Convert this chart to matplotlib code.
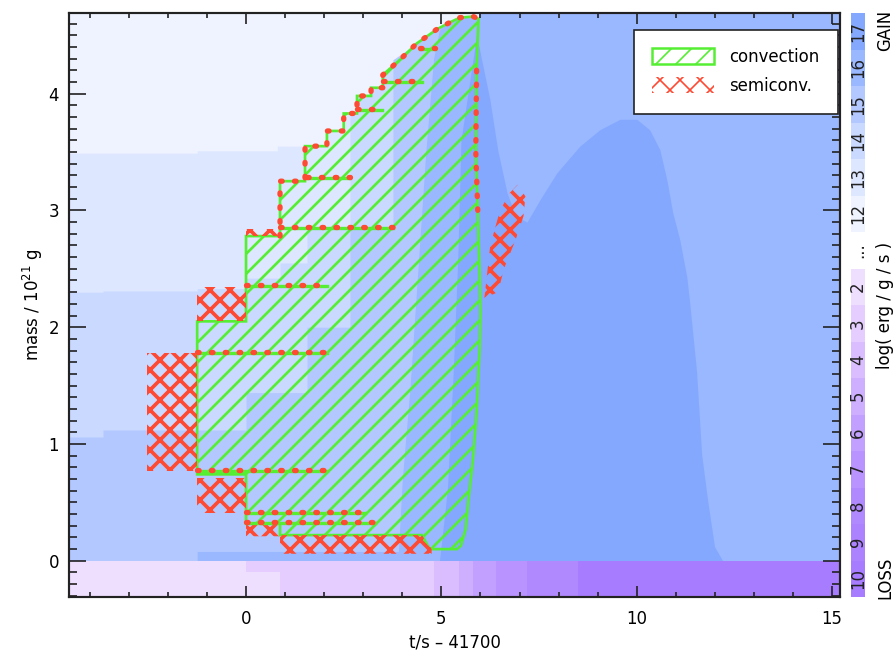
import matplotlib
matplotlib.use('Agg')
import matplotlib.pyplot as plt
from matplotlib.patches import Patch, Polygon
import numpy as np

plt.rcParams['font.family'] = ['Liberation Sans Narrow', 'DejaVu Sans']
plt.rcParams['font.stretch'] = 'condensed'
plt.rcParams['font.size'] = 11

green = '#55ee33'
red = '#ff4a33'

# colours of the energy levels, log(erg/g/s)
gain_colors = {12: '#eef3ff', 13: '#dde7ff', 14: '#c9d9ff', 15: '#b3c8ff',
               16: '#99b8ff', 17: '#85a8ff'}
loss_colors = {2: '#efdfff', 3: '#e5cdff', 4: '#d9bdff', 5: '#cdaeff', 6: '#c2a0ff',
               7: '#b993ff', 8: '#b189ff', 9: '#ac82ff', 10: '#a87cff'}

# upper mass boundary of region with level >= L (nested)
top13_t = [-4.53, -1.25, -1.25, 0.8, 0.8, 2.07, 2.07, 2.5, 2.5, 2.84, 2.84, 3.2, 3.2, 3.5, 3.5,
           3.94, 4.37, 4.63, 4.88, 5.22, 5.47, 5.81, 5.95, 5.95, 15.2]
top13_m = [3.49, 3.49, 3.51, 3.51, 3.55, 3.55, 3.68, 3.68, 3.83, 3.83, 3.98, 3.98, 4.05, 4.05, 4.16,
           4.29, 4.43, 4.49, 4.55, 4.61, 4.65, 4.66, 4.64, 4.69, 4.69]
top14_t = [-4.53, -3.66, -3.66, -1.25, -1.25, 0, 0, 0.87, 0.87, 1.56, 1.56, 2.66, 2.66, 2.84, 2.84,
           3.2, 3.2, 3.5, 3.5, 3.94, 4.37, 4.63, 4.88, 5.22, 5.47, 5.81, 5.95, 5.95, 15.2]
top14_m = [2.30, 2.30, 2.31, 2.31, 2.33, 2.33, 2.42, 2.42, 2.55, 2.55, 2.85, 2.85, 3.83, 3.83, 3.98,
           3.98, 4.05, 4.05, 4.16, 4.29, 4.43, 4.49, 4.55, 4.61, 4.65, 4.66, 4.64, 4.69, 4.69]
top15_t = [-4.53, -3.66, -3.66, 0, 0, 1.56, 1.56, 2.66, 2.66, 3.76, 3.76, 4.37, 4.63, 4.88, 5.22,
           5.47, 5.81, 5.95, 5.95, 15.2]
top15_m = [1.06, 1.06, 1.12, 1.12, 1.44, 1.44, 2.0, 2.0, 2.85, 2.85, 4.29, 4.43, 4.49, 4.55, 4.61,
           4.65, 4.66, 4.64, 4.69, 4.69]
top16_t = [-4.53, -1.25, -1.25, 3.9, 4.0, 4.2, 4.4, 4.6, 4.8, 4.95, 5.22, 5.47, 5.81, 5.95,
           5.95, 15.2]
top16_m = [0, 0, 0.08, 0.08, 0.7, 1.5, 2.5, 3.5, 4.3, 4.55, 4.61, 4.65, 4.66, 4.64, 4.69, 4.69]
top17_t = [-4.53, 4.95, 5.15, 5.3, 5.42, 5.5, 5.9, 6.24, 6.44, 6.68, 6.9, 7.19, 7.52, 7.95, 8.54,
           9.05, 9.57, 10.0, 10.33, 10.59, 10.77, 10.92, 11.10, 11.28, 11.36, 11.53, 11.66, 11.82,
           11.99, 12.2, 15.2]
top17_m = [0, 0, 0.6, 1.6, 2.6, 3.6, 4.5, 3.95, 3.52, 3.15, 2.95, 2.9, 3.09, 3.32, 3.55,
           3.69, 3.78, 3.78, 3.69, 3.52, 3.26, 2.98, 2.75, 2.43, 2.19, 1.62, 0.91, 0.5,
           0.12, 0.0, 0.0]
gain_tops = {13: (top13_t, top13_m), 14: (top14_t, top14_m), 15: (top15_t, top15_m),
             16: (top16_t, top16_m), 17: (top17_t, top17_m)}

# loss strip below mass 0
strip_edges = [-4.53, 0.0, 0.87, 4.8, 5.45, 5.8, 6.4, 7.2, 8.5, 15.2]
strip_upper = [2, 3, 3, 4, 5, 6, 7, 8, 10]
strip_lower = [2, 2, 3, 4, 5, 6, 7, 8, 10]

# convective zone outline
conv_top_t = [-1.25, 0, 0, 0.87, 0.87, 1.51, 1.51, 2.07, 2.07, 2.5, 2.5, 2.84, 2.84, 3.2, 3.2, 3.5,
              3.5, 3.94, 4.37, 4.63, 4.88, 5.22, 5.47, 5.81, 5.95]
conv_top_m = [2.05, 2.05, 2.78, 2.78, 3.25, 3.25, 3.55, 3.55, 3.68, 3.68, 3.83, 3.83, 3.98, 3.98,
              4.05, 4.05, 4.16, 4.29, 4.43, 4.49, 4.55, 4.61, 4.65, 4.66, 4.64]
conv_right_t = [5.9, 5.88, 5.93, 5.98, 6.0, 5.98, 5.9, 5.8, 5.7, 5.62, 5.5, 5.4]
conv_right_m = [4.2, 3.5, 3.0, 2.41, 2.12, 1.83, 1.27, 0.84, 0.55, 0.27, 0.13, 0.10]
conv_bot_t = [4.7, 4.5, 0.87, 0.87, 0.0, 0.0, -1.25]
conv_bot_m = [0.10, 0.22, 0.22, 0.32, 0.32, 0.74, 0.74]

# old boundaries inside the zone
inner_m = [2.35, 2.85, 3.28, 3.86, 4.10, 4.38, 1.78, 0.765, 0.41, 0.32]
inner_t0 = [0, 0.87, 1.56, 2.84, 3.5, 4.45, -1.25, -1.25, 0, 0]
inner_t1 = [2.07, 3.76, 2.66, 3.48, 4.5, 4.83, 2.07, 2.07, 3.05, 3.3]

# semiconvective regions
semi_regions = [
    ([-2.53, -1.25, -1.25, -2.53], [0.765, 0.765, 1.78, 1.78]),
    ([-1.25, 0.0, 0.0, -1.25], [0.41, 0.41, 0.71, 0.71]),
    ([-1.25, 0.0, 0.0, -1.25], [2.05, 2.05, 2.34, 2.34]),
    ([0, 0, 0.87, 0.87, 4.5, 4.75, 4.75, 0.87, 0.87], [0.21, 0.33, 0.33, 0.22, 0.22, 0.10, 0.06, 0.06, 0.21]),
    ([0.0, 0.85, 0.85, 0.0], [2.78, 2.78, 2.84, 2.84]),
    ([6.1, 6.25, 6.5, 6.75, 6.95, 7.15, 7.1, 6.9, 6.6, 6.45], [2.25, 2.7, 3.0, 3.15, 3.22, 3.12, 2.95,
                                                              2.75, 2.5, 2.3]),
]

fig = plt.figure(figsize=(7.45, 656 / 120), dpi=120)
ax = fig.add_axes([69 / 894, 59 / 656, 771 / 894, 584 / 656])
ax.set_facecolor(gain_colors[12])

for lev in [13, 14, 15, 16, 17]:
    tt, mm = gain_tops[lev]
    ax.fill_between(tt, 0, mm, color=gain_colors[lev], lw=0)

for i in range(len(strip_upper)):
    ax.fill_between(strip_edges[i:i + 2], -0.10, 0, color=loss_colors[strip_upper[i]], lw=0)
    ax.fill_between(strip_edges[i:i + 2], -0.31, -0.10, color=loss_colors[strip_lower[i]], lw=0)

conv_t = conv_top_t + conv_right_t + conv_bot_t
conv_m = conv_top_m + conv_right_m + conv_bot_m
with plt.rc_context({'hatch.linewidth': 1.6}):
    conv = Polygon(np.column_stack([conv_t, conv_m]), closed=True, facecolor='none',
                   edgecolor=green, lw=1.6, hatch='//')
ax.add_patch(conv)

for tt, mm in semi_regions:
    with plt.rc_context({'hatch.linewidth': 2.2}):
        p = Polygon(np.column_stack([tt, mm]), closed=True, facecolor='none',
                    edgecolor=red, lw=0, hatch='xx')
    ax.add_patch(p)

dots = dict(color=red, lw=3.2, ls=(0, (0.3, 2.3)), dash_capstyle='round')
for m, t0, t1 in zip(inner_m, inner_t0, inner_t1):
    ax.plot([t0, t1], [m, m], color=green, lw=2)
    ax.plot([t0, t1], [m + 0.01, m + 0.01], **dots)

ax.plot(conv_top_t[3:], conv_top_m[3:], **dots)
ax.plot(conv_right_t[:3], conv_right_m[:3], **dots)

ax.set_xlim(-4.53, 15.2)
ax.set_ylim(-0.31, 4.69)
ax.set_xticks([0, 5, 10, 15])
ax.set_xticks(np.arange(-4, 16, 1), minor=True)
ax.set_yticks([0, 1, 2, 3, 4])
ax.set_yticks(np.arange(-0.3, 4.7, 0.1), minor=True)
ax.tick_params(which='both', direction='in', top=True, right=True, color='#222222', width=1)
ax.tick_params(axis='x', which='major', length=6.5, pad=8)
ax.tick_params(axis='x', which='minor', length=3)
ax.tick_params(axis='y', which='major', length=10, pad=6)
ax.tick_params(axis='y', which='minor', length=4.8)
for s in ax.spines.values():
    s.set_linewidth(1.3)
    s.set_color('#222222')
ax.set_xlabel('t/s \u2013 41700', labelpad=3)
ax.set_ylabel('mass / 10$^{21}$ g', labelpad=2)

with plt.rc_context({'hatch.linewidth': 1.6}):
    h_conv = Patch(facecolor='white', edgecolor=green, hatch='//', lw=1.5, label='convection')
with plt.rc_context({'hatch.linewidth': 2.4}):
    h_semi = Patch(facecolor='white', edgecolor=red, hatch='xx', lw=0, label='semiconv.')
leg = ax.legend(handles=[h_conv, h_semi], loc='upper right', bbox_to_anchor=(0.997, 0.971),
                borderaxespad=0, fancybox=False, framealpha=1, edgecolor='#222222',
                handlelength=3.4, handleheight=0.9, labelspacing=0.6, borderpad=1.0,
                handletextpad=0.8)
leg.get_frame().set_linewidth(1.0)

# colour bar
cb_labels = ['17', '16', '15', '14', '13', '12', '...', '2', '3', '4', '5', '6', '7', '8', '9', '10']
cb_colors = [gain_colors[17], gain_colors[16], gain_colors[15], gain_colors[14], gain_colors[13],
             gain_colors[12], '#ffffff', loss_colors[2], loss_colors[3], loss_colors[4],
             loss_colors[5], loss_colors[6], loss_colors[7], loss_colors[8], loss_colors[9],
             loss_colors[10]]
cax = fig.add_axes([851 / 894, 59 / 656, 14 / 894, 584 / 656])
for i, (lab, col) in enumerate(zip(cb_labels, cb_colors)):
    cax.barh(i, 1, height=1, left=0, color=col, lw=0)
    cax.text(0.5, i, lab, rotation=90, ha='center', va='center', fontsize=11, color='#222222')
cax.set_xlim(0, 1)
cax.set_ylim(len(cb_labels) - 0.5, -0.5)
cax.axis('off')

fig.text(885 / 894, 1 - 30 / 656, 'GAIN', rotation=90, ha='center', va='center', fontsize=11)
fig.text(885 / 894, 1 - 578 / 656, 'LOSS', rotation=90, ha='center', va='center', fontsize=11)
fig.text(885 / 894, 1 - 305 / 656, 'log( erg / g / s )', rotation=90, ha='center', va='center',
         fontsize=11)

fig.savefig('out.png', dpi=120)
